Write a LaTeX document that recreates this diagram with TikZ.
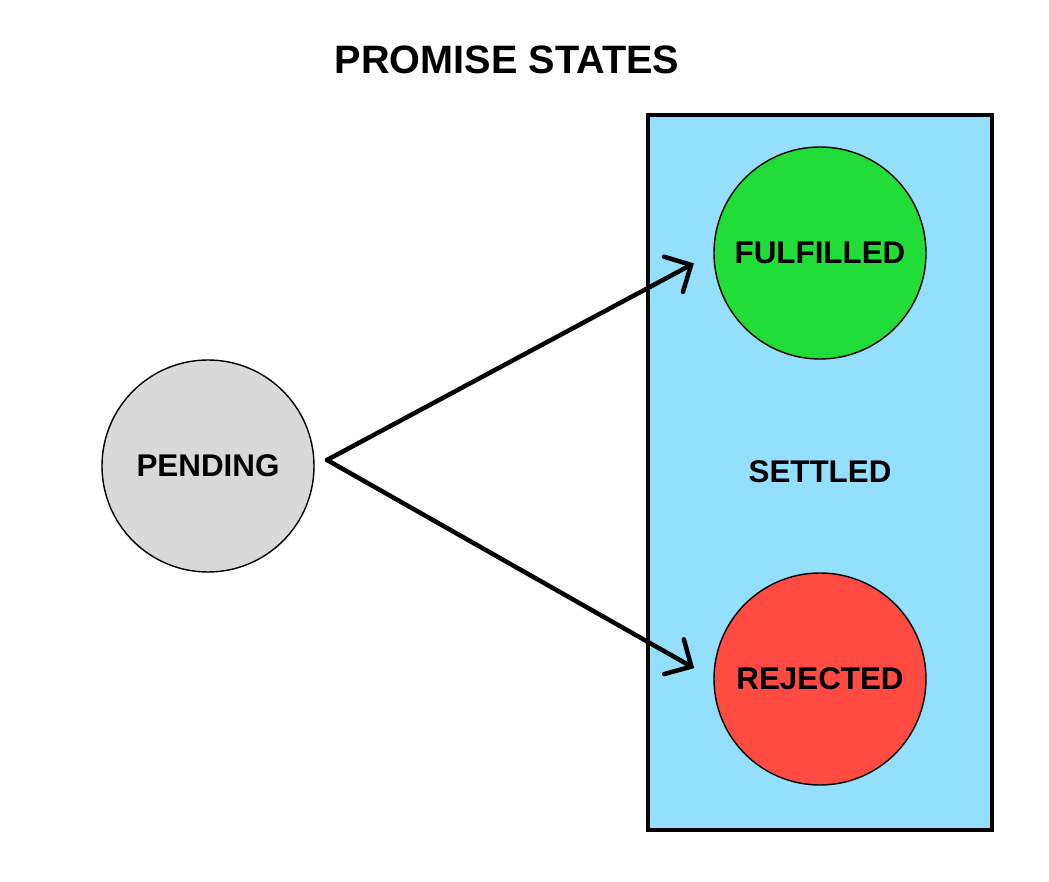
\documentclass[tikz,border=0pt]{standalone}
\usepackage{fontspec}
\setmainfont{Liberation Sans}
\definecolor{pendgray}{RGB}{217, 217, 217}
\definecolor{fulgreen}{RGB}{34, 221, 56}
\definecolor{rejred}{RGB}{255, 75, 66}
\definecolor{settleblue}{RGB}{148, 222, 254}
\usetikzlibrary{arrows.meta, positioning}

\tikzset{
  state/.style={draw=black, line width=1pt, circle, minimum size=5.3cm, inner sep=0pt, font=\fontsize{22.3}{27}\selectfont\bfseries},
  transition/.style={line width=3.2pt, line cap=round, line join=round, -{Straight Barb[length=5mm, width=10mm, line cap=round]}, shorten >=0.55cm}
}

\begin{document}
\begin{tikzpicture}
  \useasboundingbox (0, 0) rectangle (26.225, 22.05);

  % Title
  \node[font=\fontsize{28.2}{34}\selectfont\bfseries] (title) at (12.675, 20.55) {PROMISE STATES};

  % Settled box
  \node[draw=black, line width=2.2pt, fill=settleblue, minimum width=8.6cm, minimum height=17.875cm, inner sep=0pt] (box) at (20.5, 10.2375) {};
  \node[font=\fontsize{22.3}{27}\selectfont\bfseries] (settled) at (20.5, 10.25) {SETTLED};

  % States
  \node[state, fill=pendgray] (pending) at (5.2, 10.4) {PENDING};
  \node[state, fill=fulgreen] (fulfilled) at (20.5, 15.725) {FULFILLED};
  \node[state, fill=rejred] (rejected) at (20.5, 5.075) {REJECTED};

  % Transitions
  \coordinate (fork) at (8.175, 10.55);
  \draw[transition] (fork) -- (fulfilled.west);
  \draw[transition] (fork) -- (rejected.west);
\end{tikzpicture}
\end{document}
